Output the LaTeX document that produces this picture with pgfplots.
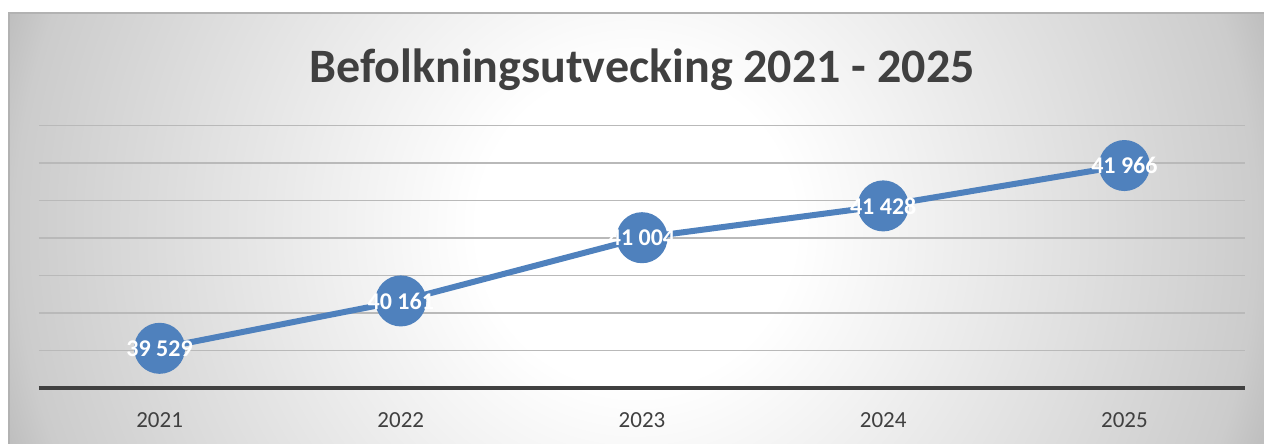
\documentclass[border=0pt]{standalone}
\usepackage{pgfplots}
\pgfplotsset{compat=1.18}
\usepackage{fontspec}
\setmainfont{Carlito}
\definecolor{serie}{HTML}{4F81BD}
\definecolor{txt}{HTML}{404040}
% central 50bp square of the shading maps onto the shaded path
\pgfdeclareradialshading{panel}{\pgfpoint{0bp}{0bp}}{color(0bp)=(white); color(6bp)=(white); color(23.5bp)=(gray!40); color(25bp)=(gray!50); color(50bp)=(gray!50)}
\pgfdeclarelayer{background}
\pgfsetlayers{background,main}
\begin{document}
\begin{tikzpicture}
\begin{axis}[
    name=ax,
    scale only axis, width=603pt, height=131.25pt,
    xmin=-0.5, xmax=4.5, ymin=39000, ymax=42500,
    separate axis lines,
    axis x line*=bottom, axis y line*=left,
    x axis line style={txt, line width=2pt},
    y axis line style={draw=none},
    xtick={0,...,4},
    xticklabels={2021,2022,2023,2024,2025},
    ytick={39500,40000,...,42500},
    yticklabels={},
    scaled y ticks=false,
    major tick style={draw=none},
    ymajorgrids,
    grid style={gray!55, line width=0.75pt},
    ticklabel style={font=\fontsize{11.5}{13}\selectfont, text=txt},
    xticklabel style={yshift=-9pt},
    clip=false,
]
\addplot[serie, line width=3pt, mark=*, mark size=11.25pt,
    mark options={fill=serie, draw=none},
    nodes near coords, point meta=explicit symbolic,
    every node near coord/.append style={anchor=center, text=white,
        font=\bfseries\fontsize{12}{14}\selectfont}]
coordinates {
    (0,39529) [39 529]
    (1,40161) [40 161]
    (2,41004) [41 004]
    (3,41428) [41 428]
    (4,41966) [41 966]
};
\end{axis}
\begin{scope}[shift={(ax.south west)}, xshift=-19.5pt, yshift=-28pt, x=1pt, y=1pt]
\begin{pgfonlayer}{background}
\begin{scope}
\clip (4.5,0) rectangle (632,215.5);
\shade[shading=panel] (-12,-222) rectangle (648,438);
\end{scope}
\draw[gray!60, line width=0.75pt] (4.5,0) -- (4.5,215.5) -- (632,215.5);
\end{pgfonlayer}
\node[anchor=base, font=\bfseries\fontsize{24}{28}\selectfont, text=txt] at (321,180.5) {Befolkningsutvecking 2021 - 2025};
\pgfresetboundingbox
\useasboundingbox (0,0) rectangle (632,222);
\end{scope}
\end{tikzpicture}
\end{document}
